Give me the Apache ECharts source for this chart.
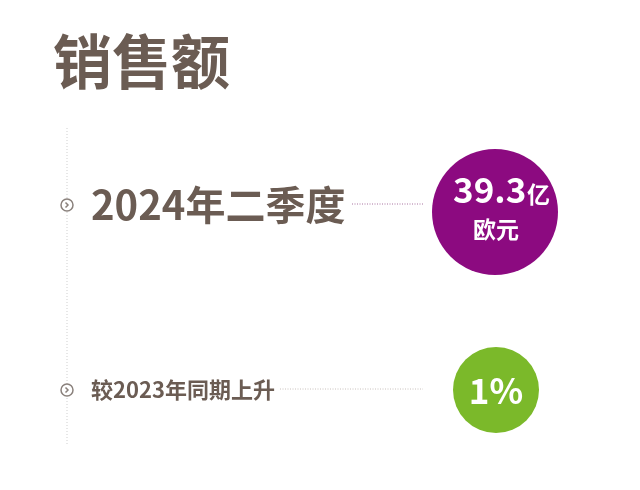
<!DOCTYPE html>
<html><head><meta charset="utf-8">
<script src="https://cdn.jsdelivr.net/npm/echarts@6/dist/echarts.min.js"></script>
<style>html,body{margin:0;background:#fff}#c{width:640px;height:490px}</style>
</head><body><div id="c"></div>
<script>
const title = '销售额';
const rowLabels = ['2024年二季度', '较2023年同期上升'];
const rowValues = ['39.3', '1%'];
const rowUnits = ['亿\n欧元', ''];
const rowColors = ['#8c0a80', '#7bb92a'];

const font = '"Noto Sans CJK SC", "Noto Sans", sans-serif';
const brown = '#6b5c53';
const rows = [
  { y: 205, r: 63, cx: 495, labelSize: 40, lineFrom: 352, lineColor: '#a873a0', valueSize: 34 },
  { y: 390, r: 43, cx: 496, labelSize: 22, lineFrom: 280, lineColor: '#c8c0bc', valueSize: 34 }
];

const graphic = [
  { type: 'text', left: 53, top: 32, style: { text: title, font: 'bold 59px ' + font, fill: brown } },
  { type: 'line', shape: { x1: 67, y1: 128, x2: 67, y2: 446 },
    style: { stroke: '#cfcfcf', lineWidth: 1, lineDash: [1, 2] } }
];
rows.forEach((row, i) => {
  graphic.push(
    { type: 'circle', shape: { cx: 67, cy: row.y, r: 6 }, style: { fill: '#fff', stroke: '#8a817c', lineWidth: 1.5 } },
    { type: 'polyline', shape: { points: [[65.5, row.y - 2.5], [68, row.y], [65.5, row.y + 2.5]] },
      style: { stroke: '#8a817c', lineWidth: 1.5, fill: null } },
    { type: 'text', x: 91, y: row.y, style: { text: rowLabels[i], font: 'bold ' + row.labelSize + 'px ' + font,
      fill: brown, textVerticalAlign: 'middle' } },
    { type: 'line', shape: { x1: row.lineFrom, y1: row.y - 1, x2: 423, y2: row.y - 1 },
      style: { stroke: row.lineColor, lineWidth: 1, lineDash: [1, 1.5] } },
    { type: 'circle', shape: { cx: row.cx, cy: row.y + (i === 0 ? 7 : 0), r: row.r }, style: { fill: rowColors[i] } }
  );
});
// value texts
graphic.push(
  { type: 'text', x: 453, y: 190, style: { text: rowValues[0], font: 'bold 35px ' + font, fill: '#fff', textVerticalAlign: 'middle' } },
  { type: 'text', x: 527, y: 194, style: { text: rowUnits[0].split('\n')[0], font: 'bold 23px ' + font, fill: '#fff', textVerticalAlign: 'middle' } },
  { type: 'text', x: 496, y: 229, style: { text: rowUnits[0].split('\n')[1], font: 'bold 23px ' + font, fill: '#fff', textAlign: 'center', textVerticalAlign: 'middle' } },
  { type: 'text', x: 496, y: 391, style: { text: rowValues[1], font: 'bold 35px ' + font, fill: '#fff', textAlign: 'center', textVerticalAlign: 'middle' } }
);

const chart = echarts.init(document.getElementById('c'));
chart.setOption({ animation: false, backgroundColor: '#fff', graphic });
</script></body></html>
